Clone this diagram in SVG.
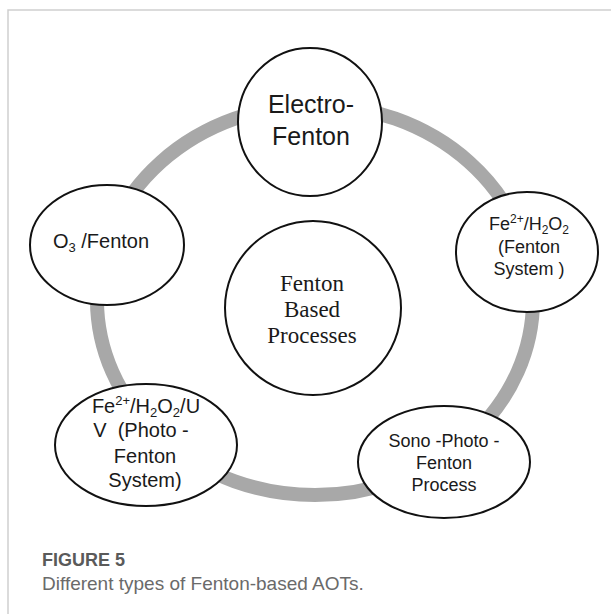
<svg xmlns="http://www.w3.org/2000/svg" width="611" height="614" viewBox="0 0 611 614">
<style>
.node{fill:#fff;stroke:#111;stroke-width:2}
.t{font-family:"Liberation Sans",Arial,sans-serif;fill:#1a1a1a;text-anchor:middle}
.s{font-family:"Liberation Serif","Times New Roman",serif;fill:#1a1a1a;text-anchor:middle;font-size:23px}
.sm{font-size:12px}
</style>
<rect width="611" height="614" fill="#fff"/>
<path d="M8 614 V10 H611" fill="none" stroke="#cfcfcf" stroke-width="1.5"/>
<g id="connectors">
<ellipse cx="315" cy="300" rx="218" ry="195" fill="none" stroke="#a8a8a8" stroke-width="14"/>
</g>
<g id="center">
<ellipse class="node" cx="313" cy="308" rx="88" ry="87"/>
<text class="s" x="312" y="291">Fenton</text>
<text class="s" x="312" y="317">Based</text>
<text class="s" x="312" y="343">Processes</text>
</g>
<g id="electro">
<ellipse class="node" cx="310" cy="122" rx="72" ry="74"/>
<text class="t" x="311" y="113" font-size="25">Electro-</text>
<text class="t" x="311" y="145" font-size="25">Fenton</text>
</g>
<g id="fenton">
<ellipse class="node" cx="527" cy="252" rx="71" ry="60"/>
<text class="t" x="529" y="230" font-size="18">Fe<tspan class="sm" dy="-7">2+</tspan><tspan dy="7">/H</tspan><tspan class="sm" dy="4">2</tspan><tspan dy="-4">O</tspan><tspan class="sm" dy="4">2</tspan></text>
<text class="t" x="529" y="253" font-size="18">(Fenton</text>
<text class="t" x="529" y="275" font-size="18">System )</text>
</g>
<g id="sono">
<ellipse class="node" cx="444" cy="462" rx="86" ry="56"/>
<text class="t" x="444" y="447" font-size="18">Sono -Photo -</text>
<text class="t" x="444" y="469" font-size="18">Fenton</text>
<text class="t" x="444" y="491" font-size="18">Process</text>
</g>
<g id="photo">
<ellipse class="node" cx="146" cy="445" rx="91" ry="61"/>
<text class="t" x="146" y="413" font-size="20">Fe<tspan font-size="13" dy="-8">2+</tspan><tspan dy="8">/H</tspan><tspan font-size="13" dy="4">2</tspan><tspan dy="-4">O</tspan><tspan font-size="13" dy="4">2</tspan><tspan dy="-4">/U</tspan></text>
<text class="t" x="141" y="437" font-size="20" xml:space="preserve">V  (Photo -</text>
<text class="t" x="145" y="463" font-size="20">Fenton</text>
<text class="t" x="145" y="487" font-size="20">System)</text>
</g>
<g id="ozone">
<ellipse class="node" cx="107" cy="245" rx="77" ry="60"/>
<text class="t" x="101" y="248" font-size="20" xml:space="preserve">O<tspan font-size="13" dy="4">3</tspan><tspan dy="-4"> /Fenton</tspan></text>
</g>
<g id="caption">
<text x="42" y="566" font-family="'Liberation Sans',Arial,sans-serif" font-size="18" font-weight="bold" fill="#5a5a5a">FIGURE 5</text>
<text x="42" y="590" font-family="'Liberation Sans',Arial,sans-serif" font-size="19" fill="#6a6a6a">Different types of Fenton-based AOTs.</text>
</g>
</svg>
